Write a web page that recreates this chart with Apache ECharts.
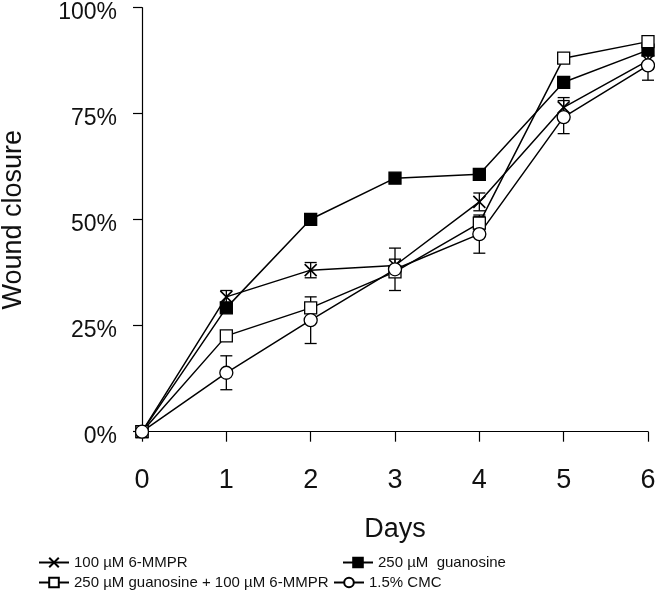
<!DOCTYPE html>
<html><head><meta charset="utf-8">
<script src="https://cdn.jsdelivr.net/npm/echarts@6/dist/echarts.min.js"></script>
<style>html,body{margin:0;padding:0;background:#fff}#c{width:655px;height:599px}</style>
</head><body><div id="c"></div>
<script>
const days = [0, 1, 2, 3, 4, 5, 6];
const yTicks = [0, 25, 50, 75, 100];
const names = ['100 µM 6-MMPR', '250 µM  guanosine', '250 µM guanosine + 100 µM 6-MMPR', '1.5% CMC'];
const mmpr = [0, 31.8, 38.1, 39.2, 54.2, 76.5, 87.5];
const guanosine = [0, 29.2, 50.1, 59.8, 60.7, 82.4, 90.0];
const combo = [0, 22.6, 29.2, 37.7, 49.2, 88.1, 92.0];
const cmc = [0, 13.9, 26.3, 38.3, 46.6, 74.2, 86.4];
const mmprErr = [0, 1.5, 1.8, 1.5, 2.1, 2.3, 2.0];
const guanosineErr = [0, 0, 0, 0, 0, 0, 0];
const comboErr = [0, 0, 0, 0, 1.5, 0, 0];
const cmcErr = [0, 4.0, 5.5, 5.0, 4.5, 3.9, 3.5];

const FONT = 'Liberation Sans, Arial, sans-serif';
const X_PATH = 'path://M0,0L10,10M10,0L0,10';

function pairs(vals) { return days.map((d, i) => [d, vals[i]]); }
function errData(vals, errs) {
  const out = [];
  days.forEach((d, i) => { if (errs[i] > 0) out.push([d, vals[i] - errs[i], vals[i] + errs[i]]); });
  return out;
}
function errSeries(vals, errs) {
  return {
    type: 'custom', z: 1, silent: true,
    data: errData(vals, errs),
    encode: { x: 0, y: [1, 2] },
    renderItem: function (params, api) {
      const x = api.value(0);
      const lo = api.coord([x, api.value(1)]);
      const hi = api.coord([x, api.value(2)]);
      const w = 6;
      const st = { stroke: '#000', lineWidth: 1.3 };
      return { type: 'group', children: [
        { type: 'line', shape: { x1: lo[0], y1: lo[1], x2: hi[0], y2: hi[1] }, style: st },
        { type: 'line', shape: { x1: lo[0] - w, y1: lo[1], x2: lo[0] + w, y2: lo[1] }, style: st },
        { type: 'line', shape: { x1: hi[0] - w, y1: hi[1], x2: hi[0] + w, y2: hi[1] }, style: st }
      ]};
    }
  };
}
function lineSeries(name, vals, symbol, fill, size) {
  return {
    name: name, type: 'line', z: 2, data: pairs(vals),
    symbol: symbol, symbolSize: size,
    lineStyle: { color: '#000', width: 1.5 },
    itemStyle: { color: fill, borderColor: '#000', borderWidth: symbol === X_PATH ? 1.6 : 1.3 },
    emphasis: { disabled: true }
  };
}
function legend(name, left, top) {
  return {
    data: [name], left: left, top: top, itemWidth: 30, itemHeight: 12, itemGap: 0,
    selectedMode: false, padding: 0,
    textStyle: { fontFamily: FONT, fontSize: 15, color: '#111' }
  };
}

const chart = echarts.init(document.getElementById('c'), null, { renderer: 'canvas' });
chart.setOption({
  animation: false,
  backgroundColor: '#fff',
  grid: { left: 142, right: 7, top: 7.7, bottom: 167.3, containLabel: false, outerBoundsMode: 'none' },
  xAxis: {
    type: 'value', min: 0, max: 6, interval: 1,
    name: 'Days', nameLocation: 'middle', nameGap: 84,
    nameTextStyle: { fontFamily: FONT, fontSize: 27, color: '#111' },
    axisLine: { lineStyle: { color: '#000', width: 1.2 } },
    axisTick: { show: true, length: 10, lineStyle: { color: '#000', width: 1.2 } },
    axisLabel: { margin: 35, fontFamily: FONT, fontSize: 27, color: '#111',
      formatter: v => days.indexOf(v) >= 0 ? String(v) : '' },
    splitLine: { show: false }
  },
  yAxis: {
    type: 'value', min: 0, max: 100, interval: 25,
    name: 'Wound closure', nameLocation: 'middle', nameGap: 115, nameRotate: 90,
    nameTextStyle: { fontFamily: FONT, fontSize: 27, color: '#111' },
    axisLine: { show: true, lineStyle: { color: '#000', width: 1.2 } },
    axisTick: { show: true, length: 9, lineStyle: { color: '#000', width: 1.2 } },
    axisLabel: { margin: 25, fontFamily: FONT, fontSize: 23, color: '#111',
      verticalAlign: 'top', lineHeight: 10,
      formatter: v => yTicks.indexOf(v) >= 0 ? v + '%' : '' },
    splitLine: { show: false }
  },
  legend: [
    legend(names[0], 38, 555),
    legend(names[1], 342, 555),
    legend(names[2], 38, 575),
    legend(names[3], 333, 575)
  ],
  series: [
    errSeries(mmpr, mmprErr),
    errSeries(guanosine, guanosineErr),
    errSeries(combo, comboErr),
    errSeries(cmc, cmcErr),
    lineSeries(names[0], mmpr, X_PATH, '#000', 12),
    lineSeries(names[1], guanosine, 'rect', '#000', 12),
    lineSeries(names[2], combo, 'rect', '#fff', 12),
    lineSeries(names[3], cmc, 'circle', '#fff', 13)
  ]
});
</script></body></html>
